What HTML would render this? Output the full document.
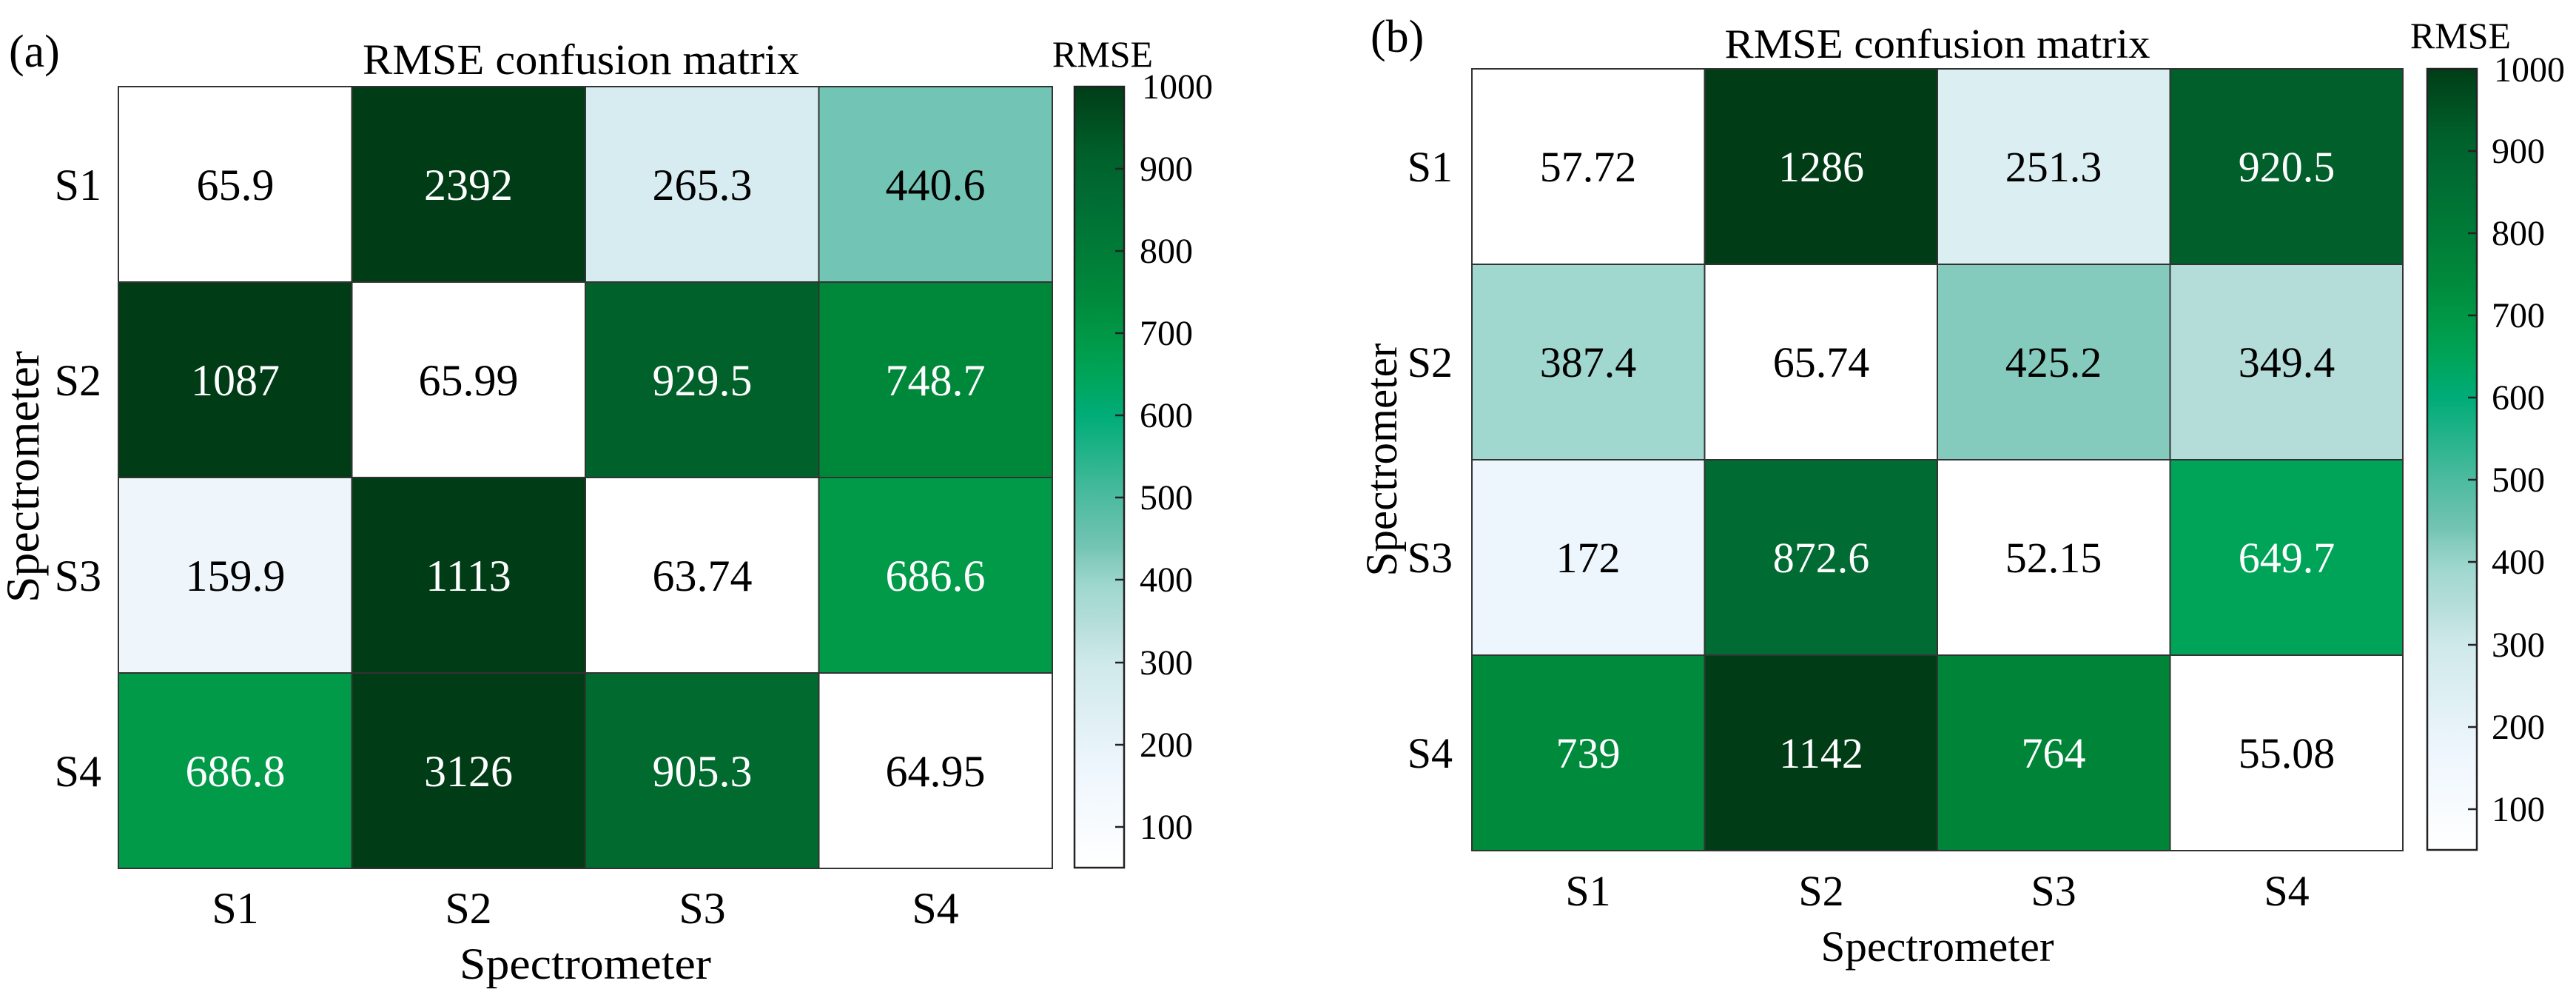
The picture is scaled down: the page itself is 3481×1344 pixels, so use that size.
<!DOCTYPE html>
<html><head><meta charset="utf-8"><style>
html,body{margin:0;padding:0;background:#fff;}
svg{display:block;}
text{font-family:"Liberation Serif","Times New Roman",serif;fill:#000;}
</style></head><body>
<svg width="3481" height="1344" viewBox="0 0 3481 1344" xmlns="http://www.w3.org/2000/svg">
<defs>
<linearGradient id="cb" x1="0" y1="1" x2="0" y2="0">
<stop offset="0" stop-color="#ffffff"/>
<stop offset="0.126" stop-color="#eef6fd"/>
<stop offset="0.21" stop-color="#dbeef2"/>
<stop offset="0.263" stop-color="#cfe9ea"/>
<stop offset="0.316" stop-color="#b4ddd9"/>
<stop offset="0.358" stop-color="#a0d8cf"/>
<stop offset="0.395" stop-color="#84cbbd"/>
<stop offset="0.41" stop-color="#74c4b4"/>
<stop offset="0.474" stop-color="#4cbb9f"/>
<stop offset="0.579" stop-color="#00ac78"/>
<stop offset="0.632" stop-color="#00a458"/>
<stop offset="0.674" stop-color="#009a48"/>
<stop offset="0.726" stop-color="#008a3c"/>
<stop offset="0.863" stop-color="#006b32"/>
<stop offset="0.916" stop-color="#005f2a"/>
<stop offset="1" stop-color="#003d17"/>
</linearGradient>
</defs>

<!-- Panel (a) -->
<text x="12" y="90" font-size="62">(a)</text>
<text x="785" y="100" font-size="58" text-anchor="middle" textLength="590" lengthAdjust="spacingAndGlyphs">RMSE confusion matrix</text>
<g stroke="#333" stroke-width="2">
<rect x="160" y="117" width="315.5" height="264" fill="#ffffff"/>
<rect x="475.5" y="117" width="315.5" height="264" fill="#003d17"/>
<rect x="791" y="117" width="315.5" height="264" fill="#d6ecf0"/>
<rect x="1106.5" y="117" width="315.5" height="264" fill="#72c4b4"/>
<rect x="160" y="381" width="315.5" height="264" fill="#003d17"/>
<rect x="475.5" y="381" width="315.5" height="264" fill="#ffffff"/>
<rect x="791" y="381" width="315.5" height="264" fill="#00622a"/>
<rect x="1106.5" y="381" width="315.5" height="264" fill="#00883a"/>
<rect x="160" y="645" width="315.5" height="264" fill="#eef6fb"/>
<rect x="475.5" y="645" width="315.5" height="264" fill="#003d17"/>
<rect x="791" y="645" width="315.5" height="264" fill="#ffffff"/>
<rect x="1106.5" y="645" width="315.5" height="264" fill="#009a48"/>
<rect x="160" y="909" width="315.5" height="264" fill="#009a48"/>
<rect x="475.5" y="909" width="315.5" height="264" fill="#003d17"/>
<rect x="791" y="909" width="315.5" height="264" fill="#006a2f"/>
<rect x="1106.5" y="909" width="315.5" height="264" fill="#ffffff"/>
</g>
<g font-size="60" text-anchor="middle">
<text x="318" y="270">65.9</text>
<text x="633" y="270" style="fill:#fff">2392</text>
<text x="949" y="270">265.3</text>
<text x="1264" y="270">440.6</text>
<text x="318" y="534" style="fill:#fff">1087</text>
<text x="633" y="534">65.99</text>
<text x="949" y="534" style="fill:#fff">929.5</text>
<text x="1264" y="534" style="fill:#fff">748.7</text>
<text x="318" y="798">159.9</text>
<text x="633" y="798" style="fill:#fff">1113</text>
<text x="949" y="798">63.74</text>
<text x="1264" y="798" style="fill:#fff">686.6</text>
<text x="318" y="1062" style="fill:#fff">686.8</text>
<text x="633" y="1062" style="fill:#fff">3126</text>
<text x="949" y="1062" style="fill:#fff">905.3</text>
<text x="1264" y="1062">64.95</text>
</g>
<g font-size="60" text-anchor="end">
<text x="137" y="270">S1</text>
<text x="137" y="534">S2</text>
<text x="137" y="798">S3</text>
<text x="137" y="1062">S4</text>
</g>
<g font-size="60" text-anchor="middle">
<text x="318" y="1247">S1</text>
<text x="633" y="1247">S2</text>
<text x="949" y="1247">S3</text>
<text x="1264" y="1247">S4</text>
<text x="791" y="1322" textLength="340" lengthAdjust="spacingAndGlyphs">Spectrometer</text>
</g>
<text transform="translate(52,644) rotate(-90)" font-size="64" text-anchor="middle" textLength="340" lengthAdjust="spacingAndGlyphs">Spectrometer</text>
<!-- colorbar a -->
<rect x="1452" y="117" width="67" height="1055" fill="url(#cb)" stroke="#222" stroke-width="2.5"/>
<g stroke="#222" stroke-width="2.5">
<line x1="1507" x2="1519" y1="228" y2="228"/><line x1="1507" x2="1519" y1="339" y2="339"/>
<line x1="1507" x2="1519" y1="450" y2="450"/><line x1="1507" x2="1519" y1="561" y2="561"/>
<line x1="1507" x2="1519" y1="672" y2="672"/><line x1="1507" x2="1519" y1="783" y2="783"/>
<line x1="1507" x2="1519" y1="895" y2="895"/><line x1="1507" x2="1519" y1="1006" y2="1006"/>
<line x1="1507" x2="1519" y1="1117" y2="1117"/>
</g>
<g font-size="48">
<text x="1543" y="133">1000</text>
<text x="1540" y="244">900</text><text x="1540" y="355">800</text>
<text x="1540" y="466">700</text><text x="1540" y="577">600</text>
<text x="1540" y="688">500</text><text x="1540" y="799">400</text>
<text x="1540" y="911">300</text><text x="1540" y="1022">200</text>
<text x="1540" y="1133">100</text>
</g>
<text x="1490" y="90" font-size="50" text-anchor="middle">RMSE</text>

<!-- Panel (b) -->
<text x="1852" y="70" font-size="62">(b)</text>
<text x="2618" y="78" font-size="56" text-anchor="middle" textLength="575" lengthAdjust="spacingAndGlyphs">RMSE confusion matrix</text>
<g stroke="#333" stroke-width="2">
<rect x="1989" y="93" width="314.5" height="264" fill="#ffffff"/>
<rect x="2303.5" y="93" width="314.5" height="264" fill="#003d17"/>
<rect x="2618" y="93" width="314.5" height="264" fill="#dbeef2"/>
<rect x="2932.5" y="93" width="314.5" height="264" fill="#005f2a"/>
<rect x="1989" y="357" width="314.5" height="264" fill="#a0d8cf"/>
<rect x="2303.5" y="357" width="314.5" height="264" fill="#ffffff"/>
<rect x="2618" y="357" width="314.5" height="264" fill="#84cbbd"/>
<rect x="2932.5" y="357" width="314.5" height="264" fill="#b4ddd9"/>
<rect x="1989" y="621" width="314.5" height="264" fill="#eef6fd"/>
<rect x="2303.5" y="621" width="314.5" height="264" fill="#006b32"/>
<rect x="2618" y="621" width="314.5" height="264" fill="#ffffff"/>
<rect x="2932.5" y="621" width="314.5" height="264" fill="#00a458"/>
<rect x="1989" y="885" width="314.5" height="264" fill="#008a3c"/>
<rect x="2303.5" y="885" width="314.5" height="264" fill="#003d17"/>
<rect x="2618" y="885" width="314.5" height="264" fill="#008538"/>
<rect x="2932.5" y="885" width="314.5" height="264" fill="#ffffff"/>
</g>
<g font-size="58" text-anchor="middle">
<text x="2146" y="245">57.72</text>
<text x="2461" y="245" style="fill:#fff">1286</text>
<text x="2775" y="245">251.3</text>
<text x="3090" y="245" style="fill:#fff">920.5</text>
<text x="2146" y="509">387.4</text>
<text x="2461" y="509">65.74</text>
<text x="2775" y="509">425.2</text>
<text x="3090" y="509">349.4</text>
<text x="2146" y="773">172</text>
<text x="2461" y="773" style="fill:#fff">872.6</text>
<text x="2775" y="773">52.15</text>
<text x="3090" y="773" style="fill:#fff">649.7</text>
<text x="2146" y="1037" style="fill:#fff">739</text>
<text x="2461" y="1037" style="fill:#fff">1142</text>
<text x="2775" y="1037" style="fill:#fff">764</text>
<text x="3090" y="1037">55.08</text>
</g>
<g font-size="58" text-anchor="end">
<text x="1963" y="245">S1</text>
<text x="1963" y="509">S2</text>
<text x="1963" y="773">S3</text>
<text x="1963" y="1037">S4</text>
</g>
<g font-size="58" text-anchor="middle">
<text x="2146" y="1223">S1</text>
<text x="2461" y="1223">S2</text>
<text x="2775" y="1223">S3</text>
<text x="3090" y="1223">S4</text>
<text x="2618" y="1298" textLength="315" lengthAdjust="spacingAndGlyphs">Spectrometer</text>
</g>
<text transform="translate(1887,621) rotate(-90)" font-size="60" text-anchor="middle" textLength="315" lengthAdjust="spacingAndGlyphs">Spectrometer</text>
<!-- colorbar b -->
<rect x="3280" y="93" width="67" height="1055" fill="url(#cb)" stroke="#222" stroke-width="2.5"/>
<g stroke="#222" stroke-width="2.5">
<line x1="3335" x2="3347" y1="204" y2="204"/><line x1="3335" x2="3347" y1="315" y2="315"/>
<line x1="3335" x2="3347" y1="426" y2="426"/><line x1="3335" x2="3347" y1="537" y2="537"/>
<line x1="3335" x2="3347" y1="648" y2="648"/><line x1="3335" x2="3347" y1="759" y2="759"/>
<line x1="3335" x2="3347" y1="871" y2="871"/><line x1="3335" x2="3347" y1="982" y2="982"/>
<line x1="3335" x2="3347" y1="1093" y2="1093"/>
</g>
<g font-size="48">
<text x="3370" y="110">1000</text>
<text x="3367" y="220">900</text><text x="3367" y="331">800</text>
<text x="3367" y="442">700</text><text x="3367" y="553">600</text>
<text x="3367" y="664">500</text><text x="3367" y="775">400</text>
<text x="3367" y="887">300</text><text x="3367" y="998">200</text>
<text x="3367" y="1109">100</text>
</g>
<text x="3325" y="65" font-size="50" text-anchor="middle">RMSE</text>
</svg>
</body></html>
